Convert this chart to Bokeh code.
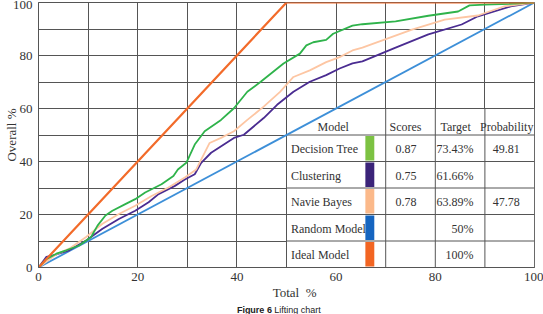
from bokeh.plotting import figure
from bokeh.layouts import column
from bokeh.models import FixedTicker, LinearAxis
from bokeh.core.properties import value
from bokeh.embed import file_html
from bokeh.resources import INLINE

# ---- data ----
dt_x = [0, 1.5, 3.6, 5.6, 8.2, 10.6, 11.9, 13.5, 14.9, 17.5, 19.5, 21.5, 24.8, 27.2, 28.1, 29.8, 31.5, 33.5, 36.8,
        39.4, 42.1, 44.8, 49.4, 52.7, 54, 55.4, 58, 59.4, 63.3, 65.3, 72, 78.6, 84.6, 86.9, 90, 95, 100]
dt_y = [0, 3, 5.2, 6.5, 8.3, 11.5, 15.8, 19.6, 21.4, 23.9, 25.8, 28.3, 31.4, 34.5, 37, 39.5, 46.4, 51.4, 55.7,
        60.1, 66.3, 70.1, 77, 80.7, 83.8, 85, 85.9, 88.2, 91.3, 91.8, 92.9, 95, 96.6, 98.9, 99.2, 99.5, 100]

cl_x = [0, 1.6, 3.6, 6.2, 9.6, 12.9, 16.2, 19.5, 22.2, 24.2, 27.5, 29.5, 31.5, 32.8, 34.8, 39.4, 41.4, 45.4, 48.1,
        51.4, 54.7, 58, 60.7, 63.3, 65.3, 72, 78.6, 85.3, 88.6, 95.2, 100]
cl_y = [0, 4, 4.9, 6.5, 10.2, 14.6, 18.3, 21.4, 24.6, 27.7, 30.8, 33.2, 35.2, 39.5, 43.3, 48.9, 50.1, 56.4, 61.4,
        66.3, 70.1, 72.6, 75.1, 77, 77.8, 83, 88, 91.7, 94.8, 98.5, 100]

nb_x = [0, 3.6, 6.2, 9.6, 12.9, 16.2, 19.5, 22.8, 26.2, 29.5, 31.8, 34.5, 36.8, 39.4, 42.1, 45.4, 48.7, 51.4, 54.7,
        58, 60.7, 63.3, 65.3, 75.3, 81.9, 88.6, 93.8, 100]
nb_y = [0, 5, 7.1, 11.5, 16.5, 20.2, 23.3, 27, 30.2, 34, 37, 47, 48.9, 51.4, 55.7, 60.7, 66.3, 71.9, 74.4,
        77.5, 79.4, 81.9, 83, 89.8, 93.5, 95.1, 98.5, 100]

rand_x = [0, 100]
rand_y = [0, 100]
ideal_x = [0, 50, 100]
ideal_y = [0, 100, 100]

models = ["Decision Tree", "Clustering", "Navie Bayes", "Random Model", "Ideal Model"]
scores = ["0.87", "0.75", "0.78", "", ""]
targets = ["73.43%", "61.66%", "63.89%", "50%", "100%"]
probs = ["49.81", "", "47.78", "", ""]
headers = ["Model", "Scores", "Target", "Probability"]

x_ticks = [0, 20, 40, 60, 80, 100]
x_minor = [10, 30, 50, 70, 90]
y_ticks = [0, 20, 40, 60, 80, 100]
y_minor = [10, 30, 50, 70, 90]

line_colors = ["#2fb34b", "#4a2c91", "#fdc6a3", "#3d8fd8", "#f26b2a"]
bar_colors = ["#7cc242", "#3b2479", "#fbb98a", "#1565c0", "#f26522"]

GRID = "#555555"
TXT = "#333333"
SERIF = "Liberation Serif"
NB = "\u00a0"

p = figure(width=543, height=302, output_backend="svg", toolbar_location=None,
           x_range=(0, 100), y_range=(0, 100),
           min_border_left=32, min_border_right=9, min_border_top=2, min_border_bottom=33)
p.background_fill_color = "white"
p.border_fill_color = "white"
p.outline_line_color = GRID
p.outline_line_width = 1

for ax, t, m in ((p.xaxis, x_ticks, x_minor), (p.yaxis, y_ticks, y_minor)):
    ax.ticker = FixedTicker(ticks=t, minor_ticks=m)
    ax.major_tick_line_color = None
    ax.minor_tick_line_color = None
    ax.major_tick_out = 0
    ax.major_tick_in = 0
    ax.minor_tick_out = 0
    ax.minor_tick_in = 0
    ax.axis_line_color = GRID
    ax.major_label_text_font = SERIF
    ax.major_label_text_font_size = "13px"
    ax.major_label_text_color = TXT
    ax.axis_label_text_font = SERIF
    ax.axis_label_text_font_size = "13px"
    ax.axis_label_text_font_style = "normal"
    ax.axis_label_text_color = TXT
p.xaxis.major_label_standoff = 5
p.yaxis.major_label_standoff = 6
p.xaxis.axis_label = NB * 5 + "Total" + NB * 2 + "%"
p.xaxis.axis_label_standoff = 1

# outer left axis that only carries the y title
ytitle = LinearAxis(axis_label="Overall %", ticker=FixedTicker(ticks=[]),
                    axis_line_color=None, major_tick_line_color=None, minor_tick_line_color=None,
                    major_tick_out=0, major_tick_in=0, minor_tick_out=0, minor_tick_in=0,
                    major_label_standoff=0, axis_label_standoff=-9,
                    axis_label_text_font=SERIF, axis_label_text_font_size="13px",
                    axis_label_text_font_style="normal", axis_label_text_color=TXT)
p.add_layout(ytitle, "left")

for g in (p.xgrid, p.ygrid):
    g.grid_line_color = GRID
    g.grid_line_alpha = 1
    g.minor_grid_line_color = GRID
    g.minor_grid_line_alpha = 1

# ---- table overlay ----
row_edges = [0, 10, 20, 30, 40, 50, 60]
col_edges = [50, 70, 80, 90, 100]
p.quad(left=[col_edges[0]], right=[col_edges[-1]], bottom=[row_edges[0]], top=[row_edges[-1]],
       fill_color="white", line_color=None)
p.segment(x0=[col_edges[0]] * len(row_edges), x1=[col_edges[-1]] * len(row_edges),
          y0=row_edges, y1=row_edges, line_color=GRID, line_width=1)
p.segment(x0=col_edges, x1=col_edges, y0=[row_edges[0]] * len(col_edges), y1=[row_edges[-1]] * len(col_edges),
          line_color=GRID, line_width=1)

n = len(models)
row_lo = [row_edges[n - 1 - i] for i in range(n)]
row_hi = [row_edges[n - i] for i in range(n)]
row_mid = [(a + b) / 2 - 0.4 for a, b in zip(row_lo, row_hi)]
p.quad(left=[65.9] * n, right=[67.7] * n, bottom=[a + 0.35 for a in row_lo], top=[b - 0.35 for b in row_hi],
       fill_color=bar_colors, line_color=None)

tf = value(SERIF)
p.text(x=[59.4, 74.0, 84.1, 94.4], y=[53.2] * 4, text=headers, text_font=tf, text_font_size="12px",
       text_color=TXT, text_align="center", text_baseline="middle")
p.text(x=[50.9] * n, y=row_mid, text=models, text_font=tf, text_font_size="12px",
       text_color=TXT, text_align="left", text_baseline="middle")
p.text(x=[74.1] * n, y=row_mid, text=scores, text_font=tf, text_font_size="12px",
       text_color=TXT, text_align="center", text_baseline="middle")
p.text(x=[87.7] * n, y=row_mid, text=targets, text_font=tf, text_font_size="12px",
       text_color=TXT, text_align="right", text_baseline="middle")
p.text(x=[94.3] * n, y=row_mid, text=probs, text_font=tf, text_font_size="12px",
       text_color=TXT, text_align="center", text_baseline="middle")

# ---- curves ----
p.line(rand_x, rand_y, line_color=line_colors[3], line_width=1.8)
p.line(cl_x, cl_y, line_color=line_colors[1], line_width=1.8)
p.line(nb_x, nb_y, line_color=line_colors[2], line_width=1.8)
p.line(dt_x, dt_y, line_color=line_colors[0], line_width=1.8)
p.line(ideal_x, ideal_y, line_color=line_colors[4], line_width=2.2)

# ---- caption strip (pixel-unit canvas) ----
cap = figure(width=543, height=12, output_backend="svg", toolbar_location=None,
             x_range=(0, 543), y_range=(0, 12), min_border=0)
cap.axis.visible = False
cap.grid.visible = False
cap.outline_line_color = None
cap.background_fill_color = "white"
cap.border_fill_color = "white"
cap.text(x=[255.5], y=[5], text=["Figure 6"], text_font=value("Liberation Sans"), text_font_size="9px",
         text_font_style="bold", text_color="#222222", text_align="right", text_baseline="middle")
cap.text(x=[258], y=[5], text=["Lifting chart"], text_font=value("Liberation Sans"), text_font_size="9px",
         text_color="#222222", text_align="left", text_baseline="middle")

layout = column(p, cap, spacing=0)
open("out.html", "w").write(file_html(layout, INLINE))
